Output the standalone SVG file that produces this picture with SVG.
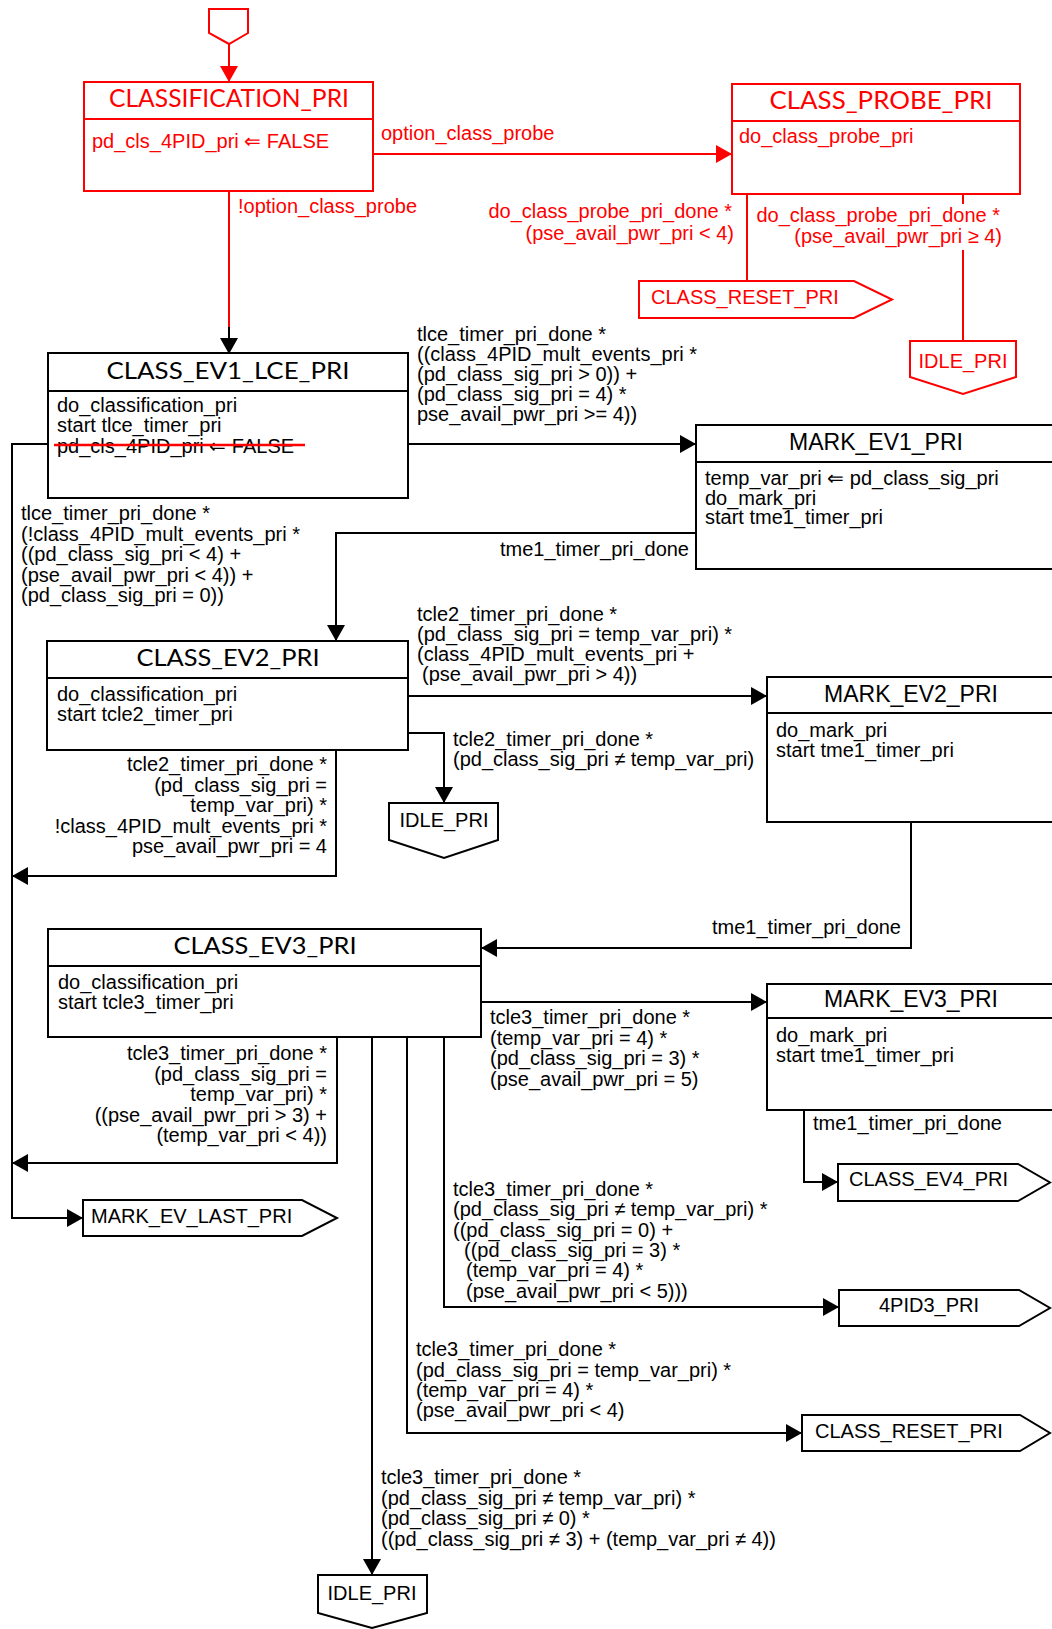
<svg xmlns="http://www.w3.org/2000/svg" width="1052" height="1629" viewBox="0 0 1052 1629">
<defs>
<style>
.t{font-family:"Liberation Sans",Arial,sans-serif;font-size:20px;fill:#000}
.tr{font-family:"Liberation Sans",Arial,sans-serif;font-size:20px;fill:#f00}
.hc{font-family:Lato,"Liberation Sans",sans-serif;font-size:24px;fill:#000;text-anchor:middle}
.hcr{font-family:Lato,"Liberation Sans",sans-serif;font-size:25px;fill:#f00;text-anchor:middle}
.hm{font-family:"Liberation Sans",Arial,sans-serif;font-size:23px;fill:#000;text-anchor:middle}
.e{text-anchor:end}
.m{text-anchor:middle}
.k{fill:none;stroke:#000;stroke-width:2}
.kr{fill:none;stroke:#f00;stroke-width:2}
.bx{fill:#fff;stroke:#000;stroke-width:2}
.bxr{fill:#fff;stroke:#f00;stroke-width:2}
</style>
<marker id="ak" markerUnits="userSpaceOnUse" markerWidth="16" markerHeight="18" refX="16" refY="9" orient="auto"><path d="M0,0 L16,9 L0,18 z" fill="#000"/></marker>
<marker id="ar" markerUnits="userSpaceOnUse" markerWidth="16" markerHeight="18" refX="16" refY="9" orient="auto"><path d="M0,0 L16,9 L0,18 z" fill="#f00"/></marker>
</defs>
<rect x="0" y="0" width="1052" height="1629" fill="#fff"/>

<g id="connectors">
  <!-- red part -->
  <line class="kr" x1="229" y1="44" x2="229" y2="82" marker-end="url(#ar)"/>
  <line class="kr" x1="373" y1="154" x2="732" y2="154" marker-end="url(#ar)"/>
  <text class="tr" x="381" y="140">option_class_probe</text>
  <line class="kr" x1="229" y1="191" x2="229" y2="328"/>
  <line class="k" x1="229" y1="327" x2="229" y2="354" marker-end="url(#ak)"/>
  <text class="tr" x="238" y="213">!option_class_probe</text>
  <line class="kr" x1="747" y1="194" x2="747" y2="281"/>
  <text class="tr e"><tspan x="732" y="218">do_class_probe_pri_done *</tspan><tspan x="734" y="240">(pse_avail_pwr_pri &lt; 4)</tspan></text>
  <line class="kr" x1="963" y1="194" x2="963" y2="204"/>
  <line class="kr" x1="963" y1="250" x2="963" y2="341"/>
  <text class="tr e"><tspan x="1000" y="222">do_class_probe_pri_done *</tspan><tspan x="1002" y="243">(pse_avail_pwr_pri ≥ 4)</tspan></text>

  <!-- EV1 -> MARK_EV1 -->
  <line class="k" x1="408" y1="444" x2="696" y2="444" marker-end="url(#ak)"/>
  <text class="t"><tspan x="417" y="341">tlce_timer_pri_done *</tspan><tspan x="417" y="361">((class_4PID_mult_events_pri *</tspan><tspan x="417" y="381">(pd_class_sig_pri &gt; 0)) +</tspan><tspan x="417" y="401">(pd_class_sig_pri = 4) *</tspan><tspan x="417" y="421">pse_avail_pwr_pri &gt;= 4))</tspan></text>

  <!-- EV1 left -> MARK_EV_LAST -->
  <polyline class="k" points="48,444 12,444 12,1218 83,1218" marker-end="url(#ak)"/>
  <text class="t"><tspan x="21" y="520">tlce_timer_pri_done *</tspan><tspan x="21" y="540.5">(!class_4PID_mult_events_pri *</tspan><tspan x="21" y="561">((pd_class_sig_pri &lt; 4) +</tspan><tspan x="21" y="581.5">(pse_avail_pwr_pri &lt; 4)) +</tspan><tspan x="21" y="602">(pd_class_sig_pri = 0))</tspan></text>

  <!-- MARK_EV1 -> EV2 -->
  <polyline class="k" points="696,533 336,533 336,641" marker-end="url(#ak)"/>
  <text class="t e" x="689" y="556">tme1_timer_pri_done</text>

  <!-- EV2 -> MARK_EV2 -->
  <line class="k" x1="408" y1="696" x2="767" y2="696" marker-end="url(#ak)"/>
  <text class="t"><tspan x="417" y="621">tcle2_timer_pri_done *</tspan><tspan x="417" y="641">(pd_class_sig_pri = temp_var_pri) *</tspan><tspan x="417" y="661">(class_4PID_mult_events_pri +</tspan><tspan x="422" y="681">(pse_avail_pwr_pri &gt; 4))</tspan></text>

  <!-- EV2 -> IDLE mid -->
  <polyline class="k" points="408,733 444,733 444,803" marker-end="url(#ak)"/>
  <text class="t"><tspan x="453" y="746">tcle2_timer_pri_done *</tspan><tspan x="453" y="766">(pd_class_sig_pri ≠ temp_var_pri)</tspan></text>

  <!-- EV2 loop -->
  <polyline class="k" points="336,750 336,876 12,876" marker-end="url(#ak)"/>
  <text class="t e"><tspan x="327" y="771">tcle2_timer_pri_done *</tspan><tspan x="327" y="791.5">(pd_class_sig_pri =</tspan><tspan x="327" y="812">temp_var_pri) *</tspan><tspan x="327" y="832.5">!class_4PID_mult_events_pri *</tspan><tspan x="327" y="853">pse_avail_pwr_pri = 4</tspan></text>

  <!-- MARK_EV2 -> EV3 -->
  <polyline class="k" points="911,822 911,948 481,948" marker-end="url(#ak)"/>
  <text class="t e" x="901" y="934">tme1_timer_pri_done</text>

  <!-- EV3 -> MARK_EV3 -->
  <line class="k" x1="481" y1="1002" x2="767" y2="1002" marker-end="url(#ak)"/>
  <text class="t"><tspan x="490" y="1024">tcle3_timer_pri_done *</tspan><tspan x="490" y="1044.5">(temp_var_pri = 4) *</tspan><tspan x="490" y="1065">(pd_class_sig_pri = 3) *</tspan><tspan x="490" y="1085.5">(pse_avail_pwr_pri = 5)</tspan></text>

  <!-- MARK_EV3 -> CLASS_EV4 -->
  <polyline class="k" points="804,1110 804,1182 838,1182" marker-end="url(#ak)"/>
  <text class="t" x="813" y="1130">tme1_timer_pri_done</text>

  <!-- EV3 loop -->
  <polyline class="k" points="337,1037 337,1163 12,1163" marker-end="url(#ak)"/>
  <text class="t e"><tspan x="327" y="1060">tcle3_timer_pri_done *</tspan><tspan x="327" y="1080.5">(pd_class_sig_pri =</tspan><tspan x="327" y="1101">temp_var_pri) *</tspan><tspan x="327" y="1121.5">((pse_avail_pwr_pri &gt; 3) +</tspan><tspan x="327" y="1142">(temp_var_pri &lt; 4))</tspan></text>

  <!-- EV3 -> 4PID3 -->
  <polyline class="k" points="444,1037 444,1307 839,1307" marker-end="url(#ak)"/>
  <text class="t"><tspan x="453" y="1196">tcle3_timer_pri_done *</tspan><tspan x="453" y="1216.3">(pd_class_sig_pri ≠ temp_var_pri) *</tspan><tspan x="453" y="1236.6">((pd_class_sig_pri = 0) +</tspan><tspan x="464" y="1256.9">((pd_class_sig_pri = 3) *</tspan><tspan x="466" y="1277.2">(temp_var_pri = 4) *</tspan><tspan x="466" y="1297.5">(pse_avail_pwr_pri &lt; 5)))</tspan></text>

  <!-- EV3 -> CLASS_RESET bottom -->
  <polyline class="k" points="407,1037 407,1433 802,1433" marker-end="url(#ak)"/>
  <text class="t"><tspan x="416" y="1356">tcle3_timer_pri_done *</tspan><tspan x="416" y="1376.5">(pd_class_sig_pri = temp_var_pri) *</tspan><tspan x="416" y="1397">(temp_var_pri = 4) *</tspan><tspan x="416" y="1417">(pse_avail_pwr_pri &lt; 4)</tspan></text>

  <!-- EV3 -> IDLE bottom -->
  <line class="k" x1="372" y1="1037" x2="372" y2="1575" marker-end="url(#ak)"/>
  <text class="t"><tspan x="381" y="1484">tcle3_timer_pri_done *</tspan><tspan x="381" y="1504.5">(pd_class_sig_pri ≠ temp_var_pri) *</tspan><tspan x="381" y="1525">(pd_class_sig_pri ≠ 0) *</tspan><tspan x="381" y="1545.5">((pd_class_sig_pri ≠ 3) + (temp_var_pri ≠ 4))</tspan></text>
</g>

<g id="entry">
  <polygon class="bxr" points="209,9 248,9 248,33 229,44 209,33"/>
</g>

<g id="classification_pri">
  <rect class="bxr" x="84" y="82" width="289" height="109"/>
  <line class="kr" x1="84" y1="119" x2="373" y2="119"/>
  <text class="hcr" x="229" y="107" textLength="240" lengthAdjust="spacingAndGlyphs">CLASSIFICATION_PRI</text>
  <text class="tr" x="92" y="148">pd_cls_4PID_pri ⇐ FALSE</text>
</g>

<g id="class_probe_pri">
  <rect class="bxr" x="732" y="84" width="288" height="110"/>
  <line class="kr" x1="732" y1="121" x2="1020" y2="121"/>
  <text class="hcr" x="881" y="109" textLength="223" lengthAdjust="spacingAndGlyphs">CLASS_PROBE_PRI</text>
  <text class="tr" x="739" y="143">do_class_probe_pri</text>
</g>

<g id="class_reset_pri_top">
  <polygon class="bxr" points="639,281 854,281 892,299.5 854,318 639,318"/>
  <text class="tr" x="651" y="304">CLASS_RESET_PRI</text>
</g>

<g id="idle_pri_top">
  <polygon class="bxr" points="910,341 1016,341 1016,377 963,394 910,377"/>
  <text class="tr m" x="963" y="368">IDLE_PRI</text>
</g>

<g id="class_ev1_lce_pri">
  <rect class="bx" x="48" y="353" width="360" height="145"/>
  <line class="k" x1="48" y1="391" x2="408" y2="391"/>
  <text class="hc" x="228" y="379" textLength="243" lengthAdjust="spacingAndGlyphs">CLASS_EV1_LCE_PRI</text>
  <text class="t"><tspan x="57" y="412">do_classification_pri</tspan><tspan x="57" y="432">start tlce_timer_pri</tspan><tspan x="57" y="453">pd_cls_4PID_pri ⇐ FALSE</tspan></text>
  <line x1="54" y1="445" x2="305" y2="445" stroke="#f00" stroke-width="2.5"/>
</g>

<g id="mark_ev1_pri">
  <path class="bx" d="M1052,425 H696 V569 H1052"/>
  <line class="k" x1="696" y1="462" x2="1052" y2="462"/>
  <text class="hm" x="876" y="450">MARK_EV1_PRI</text>
  <text class="t"><tspan x="705" y="485">temp_var_pri ⇐ pd_class_sig_pri</tspan><tspan x="705" y="505">do_mark_pri</tspan><tspan x="705" y="524">start tme1_timer_pri</tspan></text>
</g>

<g id="class_ev2_pri">
  <rect class="bx" x="47" y="641" width="361" height="109"/>
  <line class="k" x1="47" y1="678" x2="408" y2="678"/>
  <text class="hc" x="228" y="666" textLength="183" lengthAdjust="spacingAndGlyphs">CLASS_EV2_PRI</text>
  <text class="t"><tspan x="57" y="701">do_classification_pri</tspan><tspan x="57" y="721">start tcle2_timer_pri</tspan></text>
</g>

<g id="mark_ev2_pri">
  <path class="bx" d="M1052,677 H767 V822 H1052"/>
  <line class="k" x1="767" y1="713" x2="1052" y2="713"/>
  <text class="hm" x="911" y="702">MARK_EV2_PRI</text>
  <text class="t"><tspan x="776" y="737">do_mark_pri</tspan><tspan x="776" y="757">start tme1_timer_pri</tspan></text>
</g>

<g id="idle_pri_mid">
  <polygon class="bx" points="389,803 498,803 498,840 444,858 389,840"/>
  <text class="t m" x="444" y="827">IDLE_PRI</text>
</g>

<g id="class_ev3_pri">
  <rect class="bx" x="48" y="929" width="433" height="108"/>
  <line class="k" x1="48" y1="966" x2="481" y2="966"/>
  <text class="hc" x="265" y="954" textLength="183" lengthAdjust="spacingAndGlyphs">CLASS_EV3_PRI</text>
  <text class="t"><tspan x="58" y="989">do_classification_pri</tspan><tspan x="58" y="1009">start tcle3_timer_pri</tspan></text>
</g>

<g id="mark_ev3_pri">
  <path class="bx" d="M1052,984 H767 V1110 H1052"/>
  <line class="k" x1="767" y1="1018" x2="1052" y2="1018"/>
  <text class="hm" x="911" y="1007">MARK_EV3_PRI</text>
  <text class="t"><tspan x="776" y="1042">do_mark_pri</tspan><tspan x="776" y="1062">start tme1_timer_pri</tspan></text>
</g>

<g id="class_ev4_pri">
  <polygon class="bx" points="838,1164 1018,1164 1050,1182.5 1018,1201 838,1201"/>
  <text class="t" x="849" y="1186">CLASS_EV4_PRI</text>
</g>

<g id="mark_ev_last_pri">
  <polygon class="bx" points="83,1200 302,1200 337,1218 302,1236 83,1236"/>
  <text class="t" x="91" y="1223">MARK_EV_LAST_PRI</text>
</g>

<g id="pid3_pri">
  <polygon class="bx" points="839,1290 1019,1290 1050,1308 1019,1326 839,1326"/>
  <text class="t" x="879" y="1312">4PID3_PRI</text>
</g>

<g id="class_reset_pri_bottom">
  <polygon class="bx" points="802,1415 1020,1415 1050,1433 1020,1451 802,1451"/>
  <text class="t" x="815" y="1438">CLASS_RESET_PRI</text>
</g>

<g id="idle_pri_bottom">
  <polygon class="bx" points="318,1575 427,1575 427,1613 372,1628 318,1613"/>
  <text class="t m" x="372" y="1600">IDLE_PRI</text>
</g>
</svg>
